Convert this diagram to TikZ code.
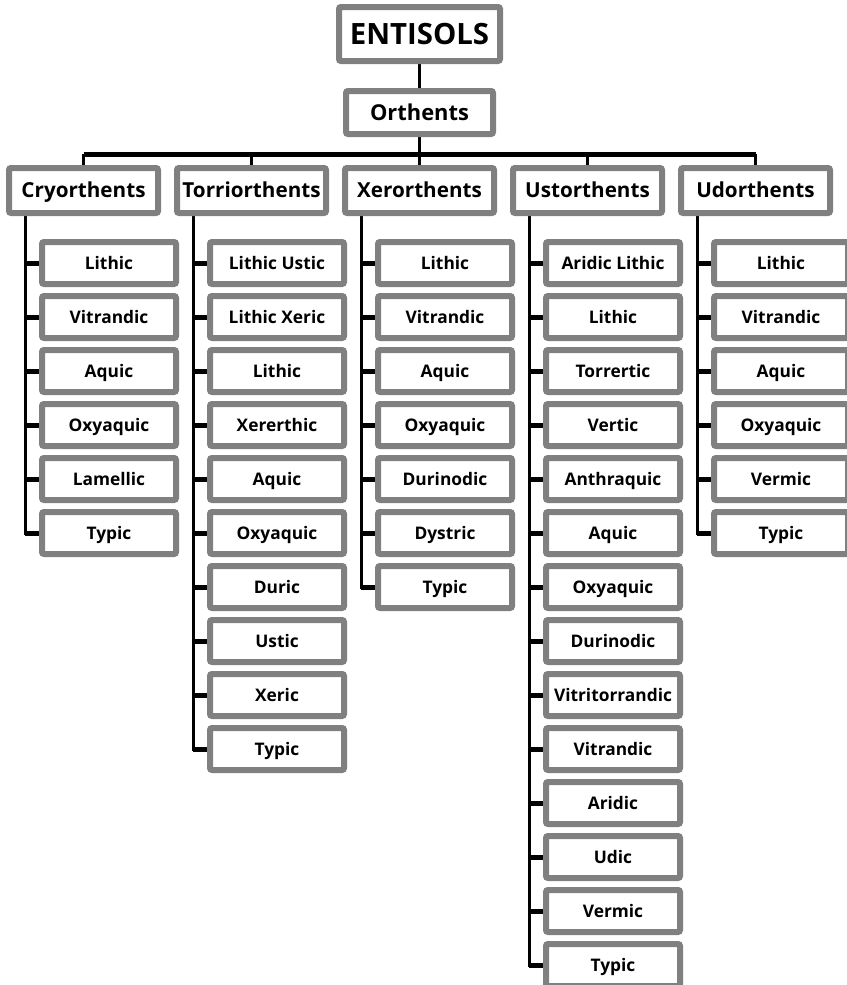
\documentclass[tikz,border=0pt]{standalone}
\usepackage{fontspec}
\setmainfont{Open Sans}
\usetikzlibrary{backgrounds}
\definecolor{boxgray}{HTML}{808080}
\begin{document}
\begin{tikzpicture}[x=0.75pt,y=-0.75pt,
  box/.style={draw=boxgray, line width=4.5pt, fill=white, rounded corners=1.5pt, inner sep=0pt, text=black, text depth=0pt},
  topbox/.style={box, minimum width=120.75pt, minimum height=40.5pt, text height=15.8pt, font=\bfseries\fontsize{22}{24}\selectfont},
  ordbox/.style={box, minimum width=110.25pt, minimum height=32.25pt, text height=11.8pt, font=\bfseries\fontsize{16.4}{18}\selectfont},
  catbox/.style={box, minimum width=111.75pt, minimum height=33.75pt, text height=11.2pt, font=\bfseries\fontsize{15.5}{17}\selectfont},
  childbox/.style={box, minimum width=100.5pt, minimum height=31.5pt, text height=9.4pt, font=\bfseries\fontsize{13}{15}\selectfont},
  thin/.style={line width=2.25pt, black},
  thick/.style={line width=3.75pt, black}
]
\useasboundingbox (0,0) rectangle (846,985);
\node[topbox] (top) at (419.5,34) {ENTISOLS};
\node[ordbox] (orth) at (419.5,112.5) {Orthents};
\coordinate (barL) at (83.5,154);
\coordinate (barR) at (755.5,154);
\begin{pgfonlayer}{background}
  \draw[thin] (top.south) -- (orth.north);
  \draw[thin] (orth.south) -- (orth.south |- barL);
  \draw[thick] (barL) -- (barR);
\end{pgfonlayer}
\foreach \i/\cname/\lst in {
  0/Cryorthents/{Lithic,Vitrandic,Aquic,Oxyaquic,Lamellic,Typic},
  1/Torriorthents/{Lithic Ustic,Lithic Xeric,Lithic,Xererthic,Aquic,Oxyaquic,Duric,Ustic,Xeric,Typic},
  2/Xerorthents/{Lithic,Vitrandic,Aquic,Oxyaquic,Durinodic,Dystric,Typic},
  3/Ustorthents/{Aridic Lithic,Lithic,Torrertic,Vertic,Anthraquic,Aquic,Oxyaquic,Durinodic,Vitritorrandic,Vitrandic,Aridic,Udic,Vermic,Typic},
  4/Udorthents/{Lithic,Vitrandic,Aquic,Oxyaquic,Vermic,Typic}}{
  \pgfmathsetmacro\lx{6+168*\i}
  \node[catbox] (cat\i) at (\lx+77.5,190.5) {\cname};
  \coordinate (tr\i) at (\lx+19,216);
  \begin{pgfonlayer}{background}
    \draw[thin] (cat\i.north) -- (cat\i.north |- barL);
  \end{pgfonlayer}
  \foreach \cn [count=\k] in \lst {
    \node[childbox] (c\i-\k) at (\lx+103,263+54*\k-54) {\cn};
    \begin{pgfonlayer}{background}
      \draw[thin] (tr\i) |- (c\i-\k.west);
      \draw[thick] (c\i-\k.west -| tr\i) -- (c\i-\k.west);
    \end{pgfonlayer}
  }
}
\end{tikzpicture}
\end{document}
